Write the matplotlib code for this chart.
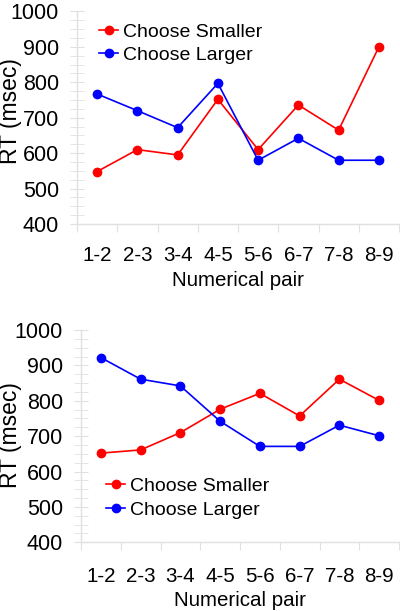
import matplotlib
matplotlib.use('Agg')
import matplotlib.pyplot as plt
from matplotlib.ticker import MultipleLocator

plt.rcParams['font.family'] = ['Liberation Sans', 'DejaVu Sans']

pairs = ['1-2', '2-3', '3-4', '4-5', '5-6', '6-7', '7-8', '8-9']

# top panel
top_smaller = [548, 610, 595, 752, 610, 736, 665, 900]
top_larger = [767, 720, 672, 797, 580, 642, 580, 580]

# bottom panel
bot_smaller = [652, 661, 710, 776, 821, 757, 861, 801]
bot_larger = [922, 861, 842, 742, 671, 671, 731, 701]

fs = 14.8
axis_gray = '#e0e0e0'

fig = plt.figure(figsize=(4, 6.11), dpi=100)
ax1 = fig.add_axes([0.1925, 0.6334, 0.805, 0.3478])
ax2 = fig.add_axes([0.2025, 0.1125, 0.795, 0.3474])


def style(ax, sm, lg, legend_anchor, xpad):
    x = list(range(len(pairs)))
    ax.plot(x, sm, color='#ff0000', marker='o', markersize=6, lw=1.2, label='Choose Smaller')
    ax.plot(x, lg, color='#0000ff', marker='o', markersize=6, lw=1.2, label='Choose Larger')
    ax.set_xlim(-0.5, 7.5)
    ax.set_ylim(400, 1000)
    for s in ['top', 'right']:
        ax.spines[s].set_visible(False)
    for s in ['left', 'bottom']:
        ax.spines[s].set_color(axis_gray)
        ax.spines[s].set_linewidth(1)
    # category boundaries as ticks, labels at centers
    ax.set_xticks([i - 0.5 for i in range(len(pairs) + 1)])
    ax.set_xticklabels([])
    ax.set_xticks(x, minor=True)
    ax.set_xticklabels(pairs, minor=True, fontsize=fs)
    ax.tick_params(axis='x', which='major', direction='out', length=6, color=axis_gray)
    ax.tick_params(axis='x', which='minor', length=0, pad=xpad)
    ax.yaxis.set_major_locator(MultipleLocator(100))
    ax.yaxis.set_minor_locator(MultipleLocator(25))
    ax.tick_params(axis='y', which='both', direction='inout', length=10, color=axis_gray, labelsize=15.5, pad=8)
    ax.set_xlabel('Numerical pair', fontsize=fs, labelpad=4)
    ax.legend(loc='upper left', bbox_to_anchor=legend_anchor, frameon=False, fontsize=14,
              handlelength=1.0, handletextpad=0.25, labelspacing=0.3, borderpad=0, borderaxespad=0)


style(ax1, top_smaller, top_larger, (0.068, 0.946), 16)
style(ax2, bot_smaller, bot_larger, (0.078, 0.305), 17.5)

fig.text(0.026, 0.818, 'RT (msec)', rotation=90, ha='center', va='center', fontsize=16.5)
fig.text(0.026, 0.288, 'RT (msec)', rotation=90, ha='center', va='center', fontsize=16.5)

fig.savefig('out.png', dpi=100)
